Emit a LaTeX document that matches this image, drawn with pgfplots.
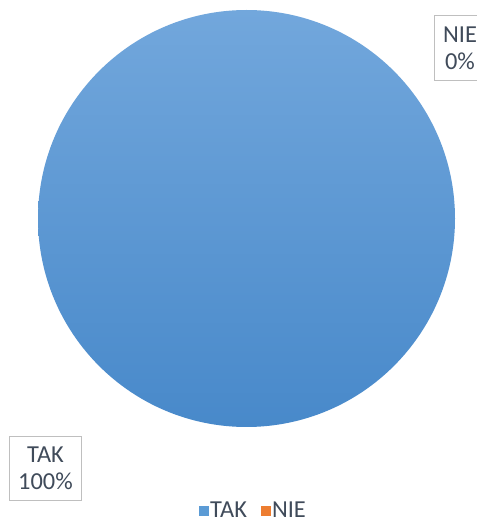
\documentclass[border=0pt]{standalone}
\usepackage{pgfplots}
\pgfplotsset{compat=1.18}
\usepackage{pgfplotstable}
\usepackage{fontspec}
\setmainfont{Carlito}

\definecolor{takblue}{HTML}{5B9BD5}
\definecolor{taktop}{HTML}{72A7DC}
\definecolor{takmid}{HTML}{5A9BDC}
\definecolor{takbot}{HTML}{4889CA}
\definecolor{nieorange}{HTML}{ED7D31}
\definecolor{labeltext}{HTML}{404B5A}
\definecolor{labelbox}{HTML}{BFBFBF}

\pgfplotstableread{
label value
TAK 100
NIE 0
}\piedata

\begin{document}
\begin{tikzpicture}
\begin{axis}[
  scale only axis, width=357.75pt, height=391.5pt,
  xmin=0, xmax=477, ymin=0, ymax=522,
  hide axis, clip=false,
  legend columns=2,
  legend style={at={(axis cs:253.5,11)}, anchor=center, draw=none, fill=none,
    font=\fontsize{18.3}{20}\selectfont, text=labeltext,
    /tikz/every even column/.append style={column sep=9pt},
    nodes={inner xsep=1.5pt, inner ysep=0pt}},
]
\pgfplotstablegetelem{0}{value}\of\piedata \let\vTAK\pgfplotsretval
\pgfplotstablegetelem{1}{value}\of\piedata \let\vNIE\pgfplotsretval
\pgfmathtruncatemacro\pTAK{round(100*\vTAK/(\vTAK+\vNIE))}
\pgfmathtruncatemacro\pNIE{round(100*\vNIE/(\vTAK+\vNIE))}

% TAK takes the whole pie, NIE has a zero slice
\shade[top color=taktop, middle color=takmid, bottom color=takbot]
  (axis cs:246.5,303.5) circle[radius=208.5];

\addlegendimage{legend image code/.code={\fill[takblue] (0pt,-3.2pt) rectangle (6.4pt,3.2pt);}}
\addlegendentry{TAK}
\addlegendimage{legend image code/.code={\fill[nieorange] (0pt,-3.2pt) rectangle (6.4pt,3.2pt);}}
\addlegendentry{NIE}

\node[draw=labelbox, fill=white, line width=0.9pt, align=center, text=labeltext,
  font=\fontsize{18.3}{20.5}\selectfont, inner xsep=6.5pt, inner ysep=8pt]
  at (axis cs:45.5,53.5) {TAK\\\pTAK\%};
\node[draw=labelbox, fill=white, line width=0.9pt, align=center, text=labeltext,
  font=\fontsize{18.3}{20.5}\selectfont, inner xsep=6.5pt, inner ysep=8pt]
  at (axis cs:460,474) {NIE\\\pNIE\%};
\end{axis}
\pgfresetboundingbox
\path (current axis.south west) rectangle (current axis.north east);
\end{tikzpicture}
\end{document}
